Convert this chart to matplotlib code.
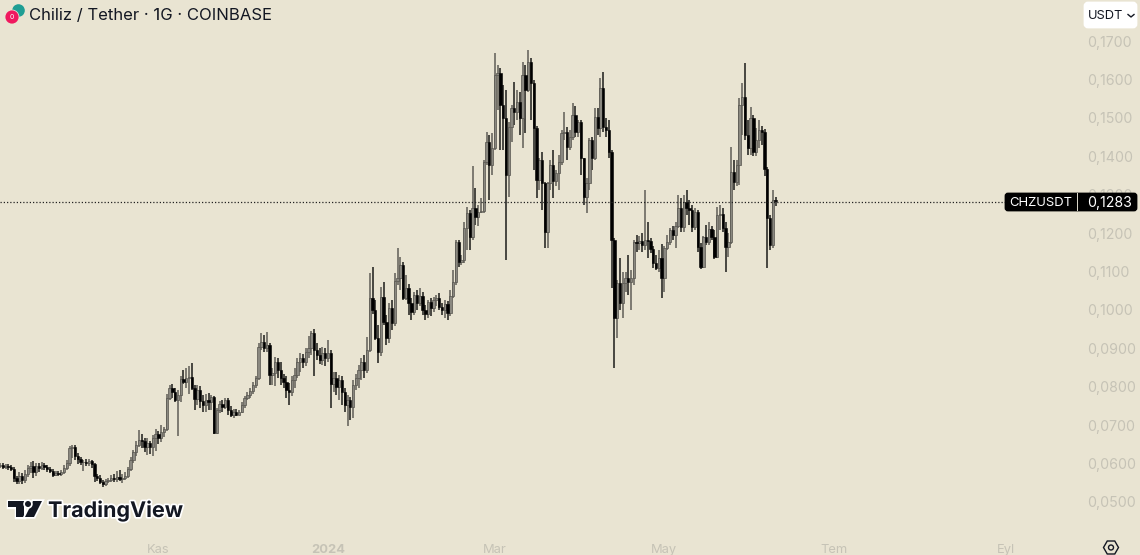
"""
plot.py
"""

import matplotlib
matplotlib.use('Agg')
import matplotlib.dates as mdates
import matplotlib.patheffects as pe
import matplotlib.pyplot as plt
import matplotlib.transforms as mtrans
import numpy as np
import pandas as pd
from matplotlib.patches import Circle, FancyBboxPatch, Polygon, Rectangle

start_date = '2023-09-05'

opens = [
    .0593, .0596, .0591, .0593, .0591, .0585, .0562, .0554, .0567, .0557,
    .0572, .0588, .0593, .0578, .0593, .0588, .0596, .0591, .0585, .0580,
    .0570, .0575, .0572, .0578, .0588, .0601, .0640, .0643, .0619, .0611,
    .0604, .0604, .0601, .0606, .0598, .0567, .0562, .0552, .0546, .0554,
    .0557, .0562, .0559, .0565, .0559, .0562, .0567, .0585, .0609, .0630,
    .0648, .0661, .0658, .0643, .0653, .0643, .0666, .0677, .0666, .0682,
    .0690, .0770, .0796, .0786, .0765, .0778, .0820, .0812, .0822, .0825,
    .0796, .0768, .0791, .0763, .0752, .0765, .0760, .0773, .0679, .0739,
    .0755, .0747, .0765, .0739, .0726, .0734, .0726, .0734, .0752, .0770,
    .0778, .0789, .0804, .0822, .0903, .0916, .0900, .0908, .0830, .0835,
    .0864, .0843, .0822, .0812, .0791, .0786, .0817, .0830, .0864, .0874,
    .0864, .0890, .0900, .0940, .0895, .0882, .0869, .0887, .0874, .0887,
    .0807, .0822, .0799, .0817, .0786, .0752, .0765, .0747, .0804, .0822,
    .0843, .0864, .0843, .0895, .1031, .1000, .0927, .0890, .1033, .0968,
    .0927, .1005, .0966, .1075, .1083, .1117, .1031, .1057, .1018, .0994,
    .1039, .1018, .1036, .1000, .0989, .1020, .1005, .1026, .1031, .1007,
    .1000, .1015, .0992, .1036, .1072, .1177, .1124, .1130, .1213, .1252,
    .1190, .1265, .1242, .1255, .1257, .1385, .1437, .1377, .1421, .1611,
    .1617, .1533, .1499, .1351, .1476, .1526, .1515, .1541, .1499, .1611,
    .1572, .1645, .1591, .1473, .1338, .1390, .1330, .1203, .1330, .1377,
    .1335, .1356, .1385, .1460, .1463, .1424, .1450, .1507, .1463, .1489,
    .1395, .1294, .1330, .1442, .1395, .1502, .1473, .1578, .1476, .1468,
    .1411, .1182, .0979, .1070, .1018, .1070, .1083, .1072, .1083, .1177,
    .1174, .1179, .1169, .1182, .1179, .1158, .1122, .1109, .1135, .1083,
    .1161, .1177, .1208, .1195, .1218, .1265, .1216, .1281, .1265, .1260,
    .1216, .1255, .1164, .1111, .1190, .1177, .1210, .1190, .1137, .1247,
    .1250, .1213, .1164, .1177, .1359, .1333, .1377, .1533, .1554, .1455,
    .1421, .1499, .1411, .1442, .1468, .1463, .1367, .1239, .1169, .1286,
]
closes = [
    .0596, .0591, .0593, .0591, .0585, .0562, .0554, .0567, .0557, .0572,
    .0588, .0593, .0578, .0593, .0588, .0596, .0591, .0585, .0580, .0570,
    .0575, .0572, .0578, .0588, .0601, .0640, .0643, .0619, .0611, .0604,
    .0604, .0601, .0606, .0598, .0567, .0562, .0552, .0546, .0554, .0557,
    .0562, .0559, .0565, .0559, .0562, .0567, .0585, .0609, .0630, .0648,
    .0661, .0658, .0643, .0653, .0643, .0666, .0677, .0666, .0682, .0690,
    .0770, .0796, .0786, .0765, .0778, .0820, .0812, .0822, .0825, .0796,
    .0768, .0791, .0763, .0752, .0765, .0760, .0773, .0679, .0739, .0755,
    .0747, .0765, .0739, .0726, .0734, .0726, .0734, .0752, .0770, .0778,
    .0789, .0804, .0822, .0903, .0916, .0900, .0908, .0830, .0835, .0864,
    .0843, .0822, .0812, .0791, .0786, .0817, .0830, .0864, .0874, .0864,
    .0890, .0900, .0940, .0895, .0882, .0869, .0887, .0874, .0887, .0807,
    .0822, .0799, .0817, .0786, .0752, .0765, .0747, .0804, .0822, .0843,
    .0864, .0843, .0895, .1031, .1000, .0927, .0890, .1033, .0968, .0927,
    .1005, .0966, .1075, .1083, .1117, .1031, .1057, .1018, .0994, .1039,
    .1018, .1036, .1000, .0989, .1020, .1005, .1026, .1031, .1007, .1000,
    .1015, .0992, .1036, .1072, .1177, .1124, .1130, .1213, .1252, .1190,
    .1265, .1242, .1255, .1257, .1385, .1437, .1377, .1421, .1611, .1617,
    .1533, .1499, .1351, .1476, .1526, .1515, .1541, .1499, .1611, .1572,
    .1645, .1591, .1473, .1338, .1390, .1330, .1203, .1330, .1377, .1335,
    .1356, .1385, .1460, .1463, .1424, .1450, .1507, .1463, .1489, .1395,
    .1294, .1330, .1442, .1395, .1502, .1473, .1578, .1476, .1468, .1411,
    .1182, .0979, .1070, .1018, .1070, .1083, .1072, .1083, .1177, .1174,
    .1179, .1169, .1182, .1179, .1158, .1122, .1109, .1135, .1083, .1161,
    .1177, .1208, .1195, .1218, .1265, .1216, .1281, .1265, .1260, .1216,
    .1255, .1164, .1111, .1190, .1177, .1210, .1190, .1137, .1247, .1250,
    .1213, .1164, .1177, .1359, .1333, .1377, .1533, .1554, .1455, .1421,
    .1499, .1411, .1442, .1468, .1463, .1367, .1239, .1169, .1286, .1283,
]
highs = [
    .0601, .0601, .0598, .0598, .0596, .0591, .0567, .0578, .0575, .0583,
    .0596, .0604, .0606, .0601, .0601, .0604, .0601, .0596, .0591, .0585,
    .0580, .0580, .0583, .0596, .0609, .0645, .0648, .0648, .0627, .0617,
    .0609, .0611, .0611, .0609, .0601, .0572, .0570, .0557, .0559, .0562,
    .0570, .0572, .0580, .0583, .0572, .0578, .0591, .0617, .0635, .0658,
    .0687, .0677, .0666, .0666, .0658, .0674, .0690, .0684, .0700, .0695,
    .0781, .0804, .0807, .0796, .0791, .0828, .0843, .0848, .0853, .0861,
    .0804, .0804, .0802, .0778, .0781, .0783, .0778, .0775, .0744, .0762,
    .0765, .0770, .0770, .0749, .0742, .0742, .0739, .0760, .0775, .0786,
    .0796, .0812, .0828, .0914, .0940, .0934, .0942, .0914, .0848, .0877,
    .0874, .0864, .0833, .0828, .0809, .0828, .0848, .0874, .0887, .0885,
    .0900, .0932, .0945, .0950, .0914, .0900, .0903, .0900, .0921, .0895,
    .0838, .0838, .0830, .0828, .0796, .0778, .0773, .0817, .0833, .0856,
    .0874, .0882, .0929, .1096, .1112, .1026, .0960, .1060, .1073, .0986,
    .1018, .1026, .1096, .1161, .1138, .1125, .1091, .1067, .1031, .1046,
    .1052, .1057, .1046, .1013, .1026, .1031, .1033, .1039, .1044, .1018,
    .1026, .1023, .1052, .1104, .1182, .1182, .1143, .1229, .1268, .1260,
    .1375, .1317, .1273, .1291, .1390, .1463, .1455, .1460, .1669, .1638,
    .1630, .1585, .1572, .1489, .1533, .1593, .1572, .1567, .1645, .1638,
    .1677, .1656, .1598, .1479, .1395, .1411, .1333, .1333, .1390, .1416,
    .1364, .1403, .1468, .1515, .1476, .1468, .1539, .1531, .1494, .1494,
    .1395, .1343, .1447, .1450, .1526, .1526, .1604, .1619, .1499, .1494,
    .1416, .1187, .1078, .1135, .1099, .1099, .1143, .1104, .1182, .1195,
    .1192, .1200, .1312, .1229, .1187, .1166, .1143, .1156, .1171, .1166,
    .1195, .1213, .1219, .1229, .1299, .1292, .1299, .1312, .1286, .1273,
    .1265, .1260, .1174, .1192, .1221, .1229, .1219, .1208, .1268, .1273,
    .1265, .1229, .1200, .1424, .1390, .1390, .1552, .1591, .1643, .1494,
    .1528, .1507, .1473, .1494, .1479, .1471, .1372, .1247, .1312, .1294,
]
lows = [
    .0588, .0585, .0585, .0583, .0580, .0552, .0546, .0546, .0546, .0549,
    .0565, .0575, .0562, .0567, .0578, .0583, .0583, .0578, .0575, .0565,
    .0567, .0567, .0567, .0572, .0583, .0593, .0614, .0609, .0598, .0596,
    .0580, .0593, .0593, .0588, .0552, .0554, .0546, .0539, .0541, .0549,
    .0552, .0552, .0552, .0554, .0549, .0557, .0562, .0580, .0601, .0619,
    .0643, .0640, .0630, .0622, .0624, .0619, .0632, .0651, .0656, .0669,
    .0684, .0765, .0770, .0760, .0671, .0760, .0807, .0796, .0781, .0791,
    .0739, .0752, .0744, .0734, .0734, .0739, .0739, .0677, .0677, .0731,
    .0734, .0742, .0726, .0721, .0718, .0724, .0726, .0731, .0744, .0765,
    .0770, .0781, .0796, .0817, .0895, .0890, .0890, .0804, .0804, .0802,
    .0822, .0804, .0796, .0770, .0752, .0775, .0796, .0822, .0838, .0848,
    .0853, .0874, .0882, .0828, .0869, .0859, .0856, .0853, .0864, .0744,
    .0786, .0778, .0765, .0752, .0734, .0697, .0713, .0718, .0791, .0796,
    .0817, .0822, .0835, .0890, .0989, .0921, .0861, .0880, .0960, .0908,
    .0914, .0947, .0958, .1065, .1052, .1026, .1026, .0987, .0973, .0987,
    .1000, .1010, .0987, .0973, .0979, .0984, .0994, .1010, .1000, .0987,
    .0979, .0973, .0984, .1031, .1065, .1112, .1117, .1122, .1156, .1156,
    .1182, .1221, .1219, .1252, .1252, .1377, .1286, .1351, .1416, .1520,
    .1416, .1416, .1130, .1294, .1437, .1481, .1494, .1455, .1421, .1460,
    .1567, .1494, .1364, .1291, .1312, .1260, .1161, .1161, .1312, .1291,
    .1322, .1312, .1377, .1442, .1390, .1416, .1442, .1450, .1450, .1351,
    .1273, .1252, .1312, .1364, .1390, .1455, .1450, .1463, .1450, .1395,
    .1057, .0848, .0927, .1000, .0979, .1046, .1039, .1000, .1065, .1151,
    .1156, .1151, .1156, .1135, .1148, .1109, .1104, .1099, .1031, .1046,
    .1156, .1169, .1182, .1161, .1213, .1203, .1203, .1247, .1221, .1203,
    .1208, .1151, .1106, .1109, .1169, .1169, .1182, .1132, .1135, .1208,
    .1203, .1099, .1138, .1171, .1312, .1322, .1325, .1455, .1442, .1403,
    .1403, .1401, .1401, .1421, .1429, .1348, .1109, .1156, .1161, .1270,
]

price_ticks = [.17, .16, .15, .14, .13, .12, .11, .10, .09, .08, .07, .06, .05]
last_price = 0.1283

month_dates = ['2023-11-01', '2024-01-01', '2024-03-01', '2024-05-01', '2024-07-01', '2024-09-01']
month_labels = ['Kas', '2024', 'Mar', 'May', 'Tem', 'Eyl']

title = 'Chiliz / Tether · 1G · COINBASE'

BG = '#e9e4d2'
TICK = '#c6c3b6'
DARK = '#131722'
W, H = 1140, 555


def draw_candles(ax):
    o = np.array(opens)
    c = np.array(closes)
    h = np.array(highs)
    l = np.array(lows)
    x = mdates.date2num(pd.date_range(start_date, periods=len(o)))
    up = c >= o

    ax.vlines(x[up], l[up], h[up], color='#5f5d57', lw=1.1, zorder=3)
    ax.vlines(x[~up], l[~up], h[~up], color='#1c1c1a', lw=1.1, zorder=3)
    ax.bar(x[up], (c - o)[up], bottom=o[up], width=0.85, facecolor='#8a8880',
           edgecolor='#55534d', linewidth=0.5, zorder=4)
    ax.bar(x[~up], (c - o)[~up], bottom=o[~up], width=0.85, facecolor='#000000',
           edgecolor='#000000', linewidth=0.4, zorder=5)
    return x[0]


def draw_overlay(fig):
    ov = fig.add_axes([0, 0, 1, 1], facecolor='none')
    ov.set_xlim(0, W)
    ov.set_ylim(H, 0)
    ov.axis('off')
    ov.set_zorder(10)

    # coin icon
    ov.add_patch(Circle((18.5, 10.5), 6.3, fc='#1f9e94', ec='none'))
    ov.add_patch(Circle((12, 17), 7.4, fc=BG, ec='none'))
    ov.add_patch(Circle((12, 17), 6.6, fc='#f0195f', ec='none'))
    ov.text(12, 17.3, '0', color='white', fontsize=5, ha='center', va='center')
    ov.text(29, 15.5, title, color=DARK, fontsize=12.0, va='center')

    # currency button
    ov.add_patch(FancyBboxPatch((1085, 3), 51, 24, boxstyle='round,pad=0,rounding_size=3',
                                fc='white', ec='white', lw=2))
    ov.text(1087.5, 16, 'USDT', color=DARK, fontsize=9.3, va='center')
    ov.plot([1128, 1131, 1134], [14.5, 17, 14.5], color=DARK, lw=1.0)

    # price tag
    ov.add_patch(FancyBboxPatch((1006, 194), 130, 16, boxstyle='round,pad=0,rounding_size=2',
                                fc='#000000', ec='#000000', lw=2))
    ov.add_patch(Rectangle((1077, 193), 1, 18, fc='#d8d5c8', ec='none'))
    ov.text(1041, 203, 'CHZUSDT', color='white', fontsize=9.4, ha='center', va='center')
    ov.text(1110, 203, '0,1283', color='white', fontsize=10.2, ha='center', va='center')

    # logo
    halo = [pe.withStroke(linewidth=2.5, foreground='white')]
    logo_parts = [
        [(8, 501), (24, 501), (24, 517), (16, 517), (16, 507), (8, 507)],
        [(33, 501), (42, 501), (34, 517), (25, 517)],
    ]
    for part in logo_parts:
        ov.add_patch(Polygon(part, closed=True, fc=DARK, ec='none', path_effects=halo, zorder=3))
    ov.add_patch(Circle((28, 504), 3, fc=DARK, ec='none', path_effects=halo, zorder=3))
    ov.text(48, 510.5, 'TradingView', color=DARK, fontsize=15.5, fontweight='bold', va='center',
            path_effects=halo, zorder=4)

    # settings gear
    ang = np.deg2rad(np.arange(0, 360, 60))
    hexagon = np.column_stack([1111 + 7.5 * np.cos(ang), 547.5 + 7.5 * np.sin(ang)])
    ov.add_patch(Polygon(hexagon, closed=True, fc='none', ec=DARK, lw=1.0))
    ov.add_patch(Circle((1111, 547.5), 2.5, fc='none', ec=DARK, lw=1.0))


def show_chart():
    plt.rcParams['font.family'] = ['Inter', 'DejaVu Sans']
    plt.rcParams['axes.unicode_minus'] = False

    fig = plt.figure(figsize=(W / 100, H / 100), dpi=100, facecolor=BG)
    ax = fig.add_axes([0, 0, 1, 1], facecolor=BG)

    x0 = draw_candles(ax)
    ax.set_xlim(x0, x0 + W / 2.78)
    # 0,17 sits at y=41px and 0,05 at y=502px
    per_px = (0.17 - 0.05) / (502 - 41)
    ax.set_ylim(0.17 - (H - 41) * per_px, 0.17 + 41 * per_px)

    line_tr = mtrans.offset_copy(ax.transData, fig=fig, y=-1, units='dots')
    ax.hlines(last_price, x0, x0 + (1005 / 2.78), color='#222222', lw=0.9,
              linestyles=(0, (1, 1.6)), zorder=6, transform=line_tr)

    ax.set_yticks(price_ticks)
    ax.set_yticklabels([('%.4f' % p).replace('.', ',') for p in price_ticks], color=TICK, fontsize=10.2)
    ax.yaxis.tick_right()
    ax.tick_params(axis='y', length=0, pad=-38)

    ax.set_xticks(mdates.date2num(pd.to_datetime(month_dates)))
    ax.set_xticklabels(month_labels, color=TICK, fontsize=9.3)
    ax.get_xticklabels()[1].set_fontweight('bold')
    ax.tick_params(axis='x', length=0, pad=-8)

    for s in ax.spines.values():
        s.set_visible(False)

    draw_overlay(fig)
    fig.savefig('out.png', dpi=100, facecolor=BG)


show_chart()
